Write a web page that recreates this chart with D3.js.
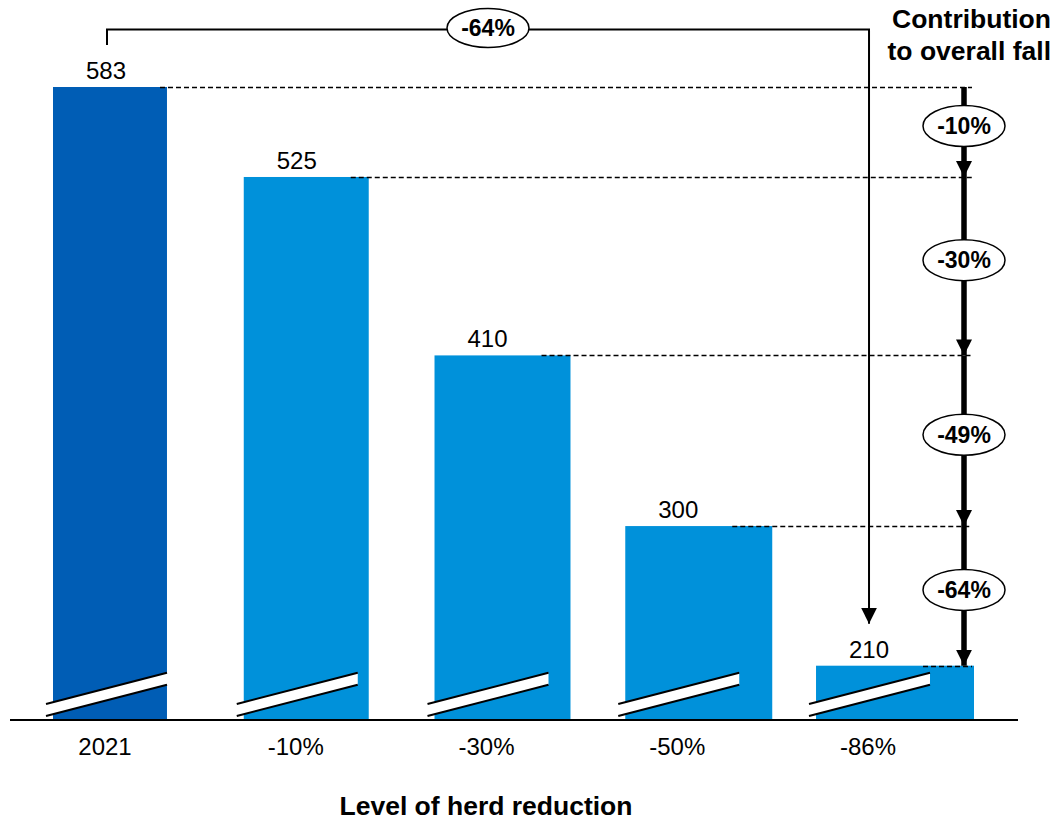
<!DOCTYPE html>
<html>
<head>
<meta charset="utf-8">
<script src="https://cdn.jsdelivr.net/npm/d3@7"></script>
<style>
  body { margin: 0; background: #fff; }
  text { font-family: Arial, "Liberation Sans", sans-serif; }
</style>
</head>
<body>
<svg id="chart" width="1055" height="822"></svg>
<script>
// Chart data
const categories = ['2021', '-10%', '-30%', '-50%', '-86%'];
const values = [583, 525, 410, 300, 210];
const stepLabels = ['-10%', '-30%', '-49%', '-64%'];
const overallLabel = '-64%';
const axisTitle = 'Level of herd reduction';
const sideTitle = ['Contribution', 'to overall fall'];

const data = categories.map((c, i) => ({ cat: c, value: values[i], i: i }));

const svg = d3.select('#chart');
const baseY = 720;
const arrowX = 964;

// Scales (value axis is broken, bars start at ~175)
const x = d3.scaleBand()
    .domain(categories)
    .range([53, 930])
    .paddingInner(0.4025)
    .paddingOuter(0);

const y = d3.scaleLinear()
    .domain([175, 583])
    .range([baseY, 87]);

const bw = x.bandwidth();

// Arrow marker
svg.append('defs').append('marker')
    .attr('id', 'head')
    .attr('viewBox', '0 0 10 10')
    .attr('refX', 10).attr('refY', 5)
    .attr('markerWidth', 16).attr('markerHeight', 17)
    .attr('markerUnits', 'userSpaceOnUse')
    .attr('orient', 'auto')
    .append('path')
    .attr('d', 'M0,0L10,5L0,10Z')
    .attr('fill', '#000');

// Bars
svg.selectAll('.bar')
    .data(data)
    .enter()
    .append('rect')
    .attr('class', 'bar')
    .attr('x', d => x(d.cat))
    .attr('y', d => y(d.value))
    .attr('width', d => bw + d.i * 11)
    .attr('height', d => baseY - y(d.value))
    .attr('fill', d => d.i === 0 ? '#005DB5' : '#0091DA');

// Break marks
data.forEach(d => {
    const x0 = x(d.cat) - 7;
    const x1 = x(d.cat) + bw;
    const g = svg.append('g');
    g.append('path')
        .attr('d', `M${x0},704L${x1},672.7L${x1},684.7L${x0},716Z`)
        .attr('fill', '#fff');
    g.append('line')
        .attr('x1', x0).attr('y1', 704).attr('x2', x1).attr('y2', 672.7)
        .attr('stroke', '#000').attr('stroke-width', 2);
    g.append('line')
        .attr('x1', x0).attr('y1', 716).attr('x2', x1).attr('y2', 684.7)
        .attr('stroke', '#000').attr('stroke-width', 2);
});

// Dashed guides
svg.selectAll('.guide')
    .data(data)
    .enter()
    .append('line')
    .attr('x1', d => x(d.cat) + 107)
    .attr('x2', 972)
    .attr('y1', d => Math.round(y(d.value)) + 0.5)
    .attr('y2', d => Math.round(y(d.value)) + 0.5)
    .attr('stroke', '#000')
    .attr('stroke-width', 1.3)
    .attr('stroke-dasharray', '5,3');

// Baseline
svg.append('line')
    .attr('x1', 10).attr('x2', 1018)
    .attr('y1', baseY).attr('y2', baseY)
    .attr('stroke', '#000').attr('stroke-width', 2);

// Value labels
svg.selectAll('.val')
    .data(data)
    .enter()
    .append('text')
    .attr('x', d => x(d.cat) + 53)
    .attr('y', d => y(d.value) - 8)
    .attr('text-anchor', 'middle')
    .style('font-size', '24px')
    .text(d => d.value);

// Category labels
svg.selectAll('.cat')
    .data(data)
    .enter()
    .append('text')
    .attr('x', d => x(d.cat) + 52)
    .attr('y', 755)
    .attr('text-anchor', 'middle')
    .style('font-size', '24px')
    .text(d => d.cat);

// Axis title
svg.append('text')
    .attr('x', 486).attr('y', 815)
    .attr('text-anchor', 'middle')
    .style('font-size', '26.5px')
    .style('font-weight', 'bold')
    .text(axisTitle);

// Side title
svg.append('text')
    .attr('x', 1051).attr('y', 28)
    .attr('text-anchor', 'end')
    .style('font-size', '26.5px')
    .style('font-weight', 'bold')
    .selectAll('tspan')
    .data(sideTitle)
    .enter()
    .append('tspan')
    .attr('x', 1051)
    .attr('dy', (d, i) => i === 0 ? 0 : 32)
    .text(d => d);

// Step arrows on the right
for (let i = 0; i < values.length - 1; i++) {
    const yA = y(values[i]);
    const yB = y(values[i + 1]);
    svg.append('line')
        .attr('x1', arrowX).attr('x2', arrowX)
        .attr('y1', yA).attr('y2', yB)
        .attr('stroke', '#000').attr('stroke-width', 5.5)
        .attr('marker-end', 'url(#head)');
}

// Step labels
stepLabels.forEach((s, i) => {
    const cy = (y(values[i]) + y(values[i + 1])) / 2 - 6;
    svg.append('ellipse')
        .attr('cx', arrowX).attr('cy', cy)
        .attr('rx', 41).attr('ry', 20.5)
        .attr('fill', '#fff').attr('stroke', '#000').attr('stroke-width', 1.5);
    svg.append('text')
        .attr('x', arrowX).attr('y', cy + 8)
        .attr('text-anchor', 'middle')
        .style('font-size', '23px')
        .style('font-weight', 'bold')
        .text(s);
});

// Overall bracket
const first = data[0];
const last = data[data.length - 1];
const bx0 = x(first.cat) + 54;
const bx1 = x(last.cat) + 53;
svg.append('path')
    .attr('d', `M${bx0},45V29.5H${bx1}V${y(last.value) - 42}`)
    .attr('fill', 'none')
    .attr('stroke', '#000')
    .attr('stroke-width', 2)
    .attr('marker-end', 'url(#head)');

svg.append('ellipse')
    .attr('cx', 488).attr('cy', 28)
    .attr('rx', 41).attr('ry', 19.5)
    .attr('fill', '#fff').attr('stroke', '#000').attr('stroke-width', 1.5);
svg.append('text')
    .attr('x', 488).attr('y', 36)
    .attr('text-anchor', 'middle')
    .style('font-size', '23px')
    .style('font-weight', 'bold')
    .text(overallLabel);
</script>
</body>
</html>
